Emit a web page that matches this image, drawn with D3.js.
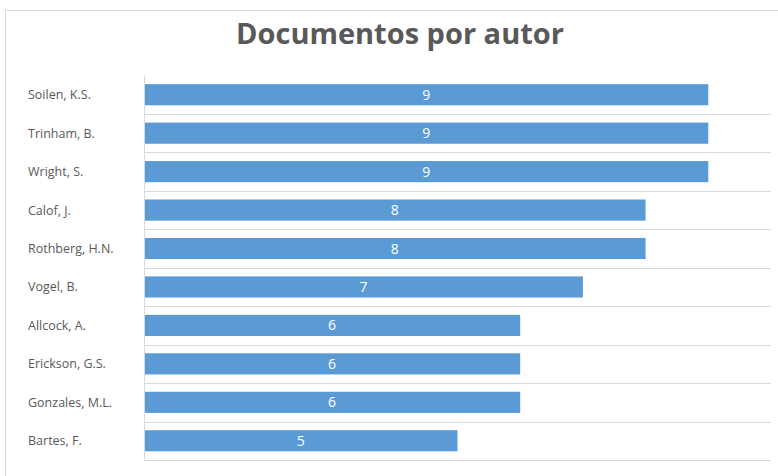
<!DOCTYPE html>
<html><head><meta charset="utf-8">
<script src="https://cdn.jsdelivr.net/npm/d3@7"></script>
<style>body{margin:0;background:#fff}svg{display:block}</style>
</head><body>
<script>
const authors = ["Soilen, K.S.","Trinham, B.","Wright, S.","Calof, J.","Rothberg, H.N.","Vogel, B.","Allcock, A.","Erickson, G.S.","Gonzales, M.L.","Bartes, F."];
const documents = [9,9,9,8,8,7,6,6,6,5];
const chartTitle = "Documentos por autor";

(function(){
const W = 778, H = 476;
const svg = d3.select("body").append("svg").attr("width", W).attr("height", H);
svg.append("rect").attr("x",5.5).attr("y",10.5).attr("width",W+10).attr("height",H+10)
  .attr("fill","#fff").attr("stroke","#d9d9d9");

const pL = 144, pR = 771, pT = 75.5, pB = 460;
const x = d3.scaleLinear().domain([0,10]).range([pL,pR]);
const y = d3.scaleBand().domain(authors).range([pT,pB]).paddingInner(0.45).paddingOuter(0.225);

svg.append("text").attr("x",400).attr("y",44).attr("text-anchor","middle")
  .attr("font-family","Open Sans, sans-serif").attr("font-weight","bold").attr("font-size",29)
  .attr("fill","#595959").text(chartTitle);

const step = (pB-pT)/authors.length;
svg.append("g").selectAll("line").data(authors).join("line")
  .attr("x1",pL).attr("x2",pR)
  .attr("y1",(d,i)=>Math.round(pT+step*(i+1))+0.5).attr("y2",(d,i)=>Math.round(pT+step*(i+1))+0.5)
  .attr("stroke","#d9d9d9").attr("stroke-width",1);

svg.append("line").attr("x1",pL+0.5).attr("x2",pL+0.5).attr("y1",pT).attr("y2",pB+1)
  .attr("stroke","#d9d9d9");

svg.append("g").selectAll("rect").data(documents).join("rect")
  .attr("x",pL+1).attr("y",(d,i)=>y(authors[i]))
  .attr("width",d=>x(d)-pL-1).attr("height",y.bandwidth())
  .attr("fill","#5b9bd5");

svg.append("g").selectAll("text").data(documents).join("text")
  .attr("x",d=>(pL+x(d))/2).attr("y",(d,i)=>y(authors[i])+y.bandwidth()/2)
  .attr("dy","0.36em").attr("text-anchor","middle")
  .attr("font-family","Open Sans, sans-serif").attr("font-size",14).attr("fill","#fff")
  .text(d=>d);

svg.append("g").selectAll("text").data(authors).join("text")
  .attr("x",28).attr("y",d=>y(d)+y.bandwidth()/2).attr("dy","0.36em")
  .attr("font-family","Open Sans, sans-serif").attr("font-size",12.5).attr("fill","#595959")
  .text(d=>d);
})();
</script>
</body></html>
